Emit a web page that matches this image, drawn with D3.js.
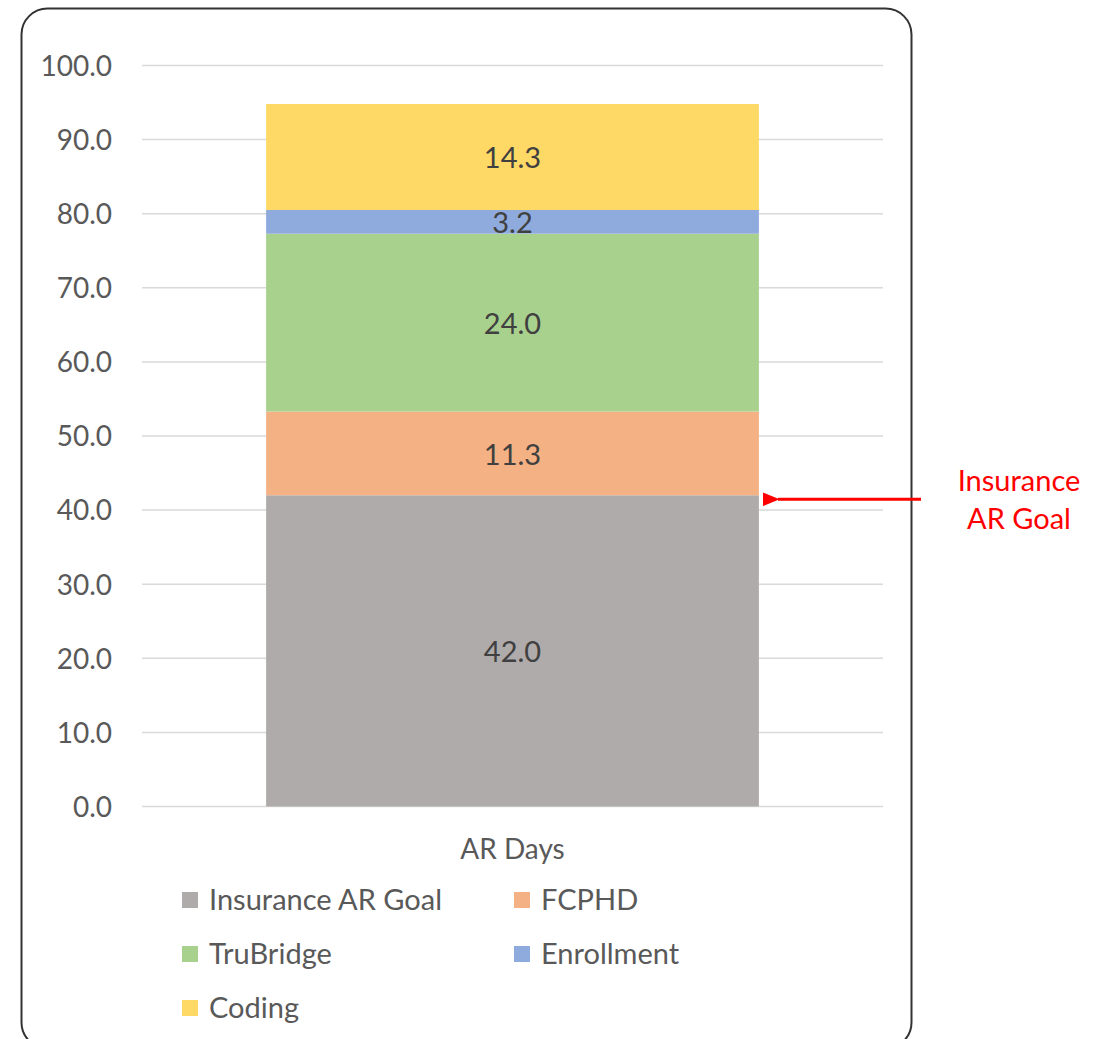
<!DOCTYPE html>
<html>
<head>
<meta charset="utf-8">
<script src="https://cdn.jsdelivr.net/npm/d3@7"></script>
<style>
body { margin: 0; background: #fff; }
text { font-family: Lato, "Open Sans", sans-serif; }
</style>
</head>
<body>
<svg></svg>
<script>
var WIDTH = 1102;
var HEIGHT = 1039;

var category = ['AR Days'];
var seriesNames = ['Insurance AR Goal', 'FCPHD', 'TruBridge', 'Enrollment', 'Coding'];
var seriesValues = [42.0, 11.3, 24.0, 3.2, 14.3];
var seriesColors = ['#AFABAB', '#F4B183', '#A9D18E', '#8FAADC', '#FFD966'];
var yTicks = [0, 10, 20, 30, 40, 50, 60, 70, 80, 90, 100];
var goalValue = 42.0;

var svg = d3.select('svg')
  .attr('width', WIDTH)
  .attr('height', HEIGHT);

// chart frame
svg.append('rect')
  .attr('x', 21.5).attr('y', 8.5)
  .attr('width', 890).attr('height', 1040)
  .attr('rx', 26).attr('ry', 26)
  .attr('fill', '#fff')
  .attr('stroke', '#333').attr('stroke-width', 2);

var yScale = d3.scaleLinear().domain([0, 100]).range([806.5, 65.5]);
var xScale = d3.scaleBand().domain(category).range([142, 883]).paddingInner(0.335).paddingOuter(0.167);

// gridlines
svg.append('g').selectAll('line').data(yTicks).enter().append('line')
  .attr('x1', 142).attr('x2', 883)
  .attr('y1', function(d){ return yScale(d); })
  .attr('y2', function(d){ return yScale(d); })
  .attr('stroke', '#d9d9d9').attr('stroke-width', 1.5);

var leftAxis = d3.axisLeft(yScale).tickValues(yTicks).tickFormat(d3.format('.1f')).tickSize(0).tickPadding(0);
var axisG = svg.append('g').attr('transform', 'translate(112,0)').call(leftAxis);
axisG.select('.domain').remove();
axisG.selectAll('text').attr('fill', '#595959').style('font-size', '28px').attr('dy', '0.35em');

// stacked segments
var stacked = [];
var base = 0;
seriesValues.forEach(function(v, i){
  stacked.push({ name: seriesNames[i], value: v, y0: base, y1: base + v, color: seriesColors[i] });
  base += v;
});

var bw = xScale.bandwidth();
var bx = xScale(category[0]);

svg.append('g').selectAll('rect').data(stacked).enter().append('rect')
  .attr('x', bx)
  .attr('width', bw)
  .attr('y', function(d){ return yScale(d.y1); })
  .attr('height', function(d){ return yScale(d.y0) - yScale(d.y1); })
  .attr('fill', function(d){ return d.color; });

svg.append('g').selectAll('text').data(stacked).enter().append('text')
  .attr('x', bx + bw / 2)
  .attr('y', function(d){ return yScale((d.y0 + d.y1) / 2) + 1; })
  .attr('dy', '0.35em')
  .attr('text-anchor', 'middle')
  .attr('fill', '#404040')
  .style('font-size', '29px')
  .text(function(d){ return d.value.toFixed(1); });

// category label
svg.append('text')
  .attr('x', bx + bw / 2).attr('y', 849)
  .attr('dy', '0.35em')
  .attr('text-anchor', 'middle')
  .attr('fill', '#595959')
  .style('font-size', '28px')
  .text(category[0]);

// legend
var legend = svg.append('g').selectAll('g').data(seriesNames).enter().append('g')
  .attr('transform', function(d, i){
    var col = i % 2, row = Math.floor(i / 2);
    return 'translate(' + (col === 0 ? 182 : 514) + ',' + (900 + row * 54) + ')';
  });
legend.append('rect')
  .attr('x', 0).attr('y', -8).attr('width', 16).attr('height', 16)
  .attr('fill', function(d, i){ return seriesColors[i]; });
legend.append('text')
  .attr('x', 27).attr('y', 0).attr('dy', '0.35em')
  .attr('fill', '#595959')
  .style('font-size', '29px')
  .text(function(d){ return d; });

// goal annotation arrow
var defs = svg.append('defs');
defs.append('marker')
  .attr('id', 'arrowHead')
  .attr('viewBox', '0 0 12 10')
  .attr('refX', 1).attr('refY', 5)
  .attr('markerWidth', 5.6).attr('markerHeight', 4.7)
  .attr('markerUnits', 'strokeWidth')
  .attr('orient', 'auto')
  .append('path').attr('d', 'M0,5 L12,0 L12,10 Z').attr('fill', '#FF0000');

var arrowY = yScale(goalValue) + 4;
svg.append('line')
  .attr('x1', 921).attr('x2', 778)
  .attr('y1', arrowY).attr('y2', arrowY)
  .attr('stroke', '#FF0000').attr('stroke-width', 3)
  .attr('marker-end', 'url(#arrowHead)');

svg.append('text')
  .attr('x', 1019).attr('y', 481).attr('dy', '0.35em')
  .attr('text-anchor', 'middle')
  .attr('fill', '#FF0000')
  .style('font-size', '29px')
  .text('Insurance');
svg.append('text')
  .attr('x', 1019).attr('y', 519).attr('dy', '0.35em')
  .attr('text-anchor', 'middle')
  .attr('fill', '#FF0000')
  .style('font-size', '29px')
  .text('AR Goal');
</script>
</body>
</html>
